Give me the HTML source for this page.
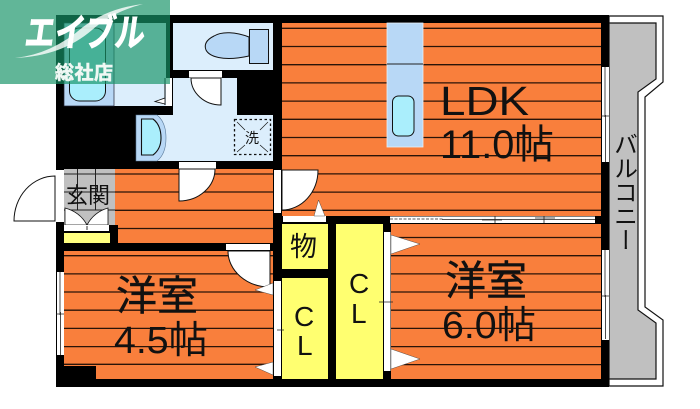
<!DOCTYPE html>
<html><head><meta charset="utf-8"><style>
html,body{margin:0;padding:0;background:#fff}
svg{display:block}
text{font-family:"Liberation Sans","Noto Sans CJK JP",sans-serif;fill:#111}
</style></head><body>
<svg width="700" height="409" viewBox="0 0 700 409" xmlns="http://www.w3.org/2000/svg">
<rect width="700" height="409" fill="#fff"/>
<!-- balcony -->
<polygon points="609,16 663,16 663,82 645,97 645,307 663,320 663,386 609,386" fill="#fff" stroke="#111" stroke-width="1.2"/>
<polygon points="609,23 656,23 656,79 638,92 638,310 656,323 656,379 609,379" fill="#c0c0c0" stroke="#111" stroke-width="1.2"/>
<!-- wall mass -->
<rect x="56" y="15" width="553" height="372" fill="#000"/>
<rect x="56" y="170" width="8" height="52" fill="#fff"/>
<!-- orange rooms -->
<g fill="#f97f3c">
<rect x="282" y="23" width="319" height="193"/>
<polygon points="115,169 273,169 273,243 118,243 118,225 115,225"/>
<polygon points="64,251 273,251 273,379 96,379 96,366 64,366"/>
<rect x="391" y="224" width="210" height="155"/>
</g>
<!-- floor lines -->
<g stroke="#2a1408" stroke-width="1.3">
<path d="M282 28.3H601M282 46.5H601M282 64.7H601M282 82.9H601M282 101.1H601M282 119.3H601M282 137.5H601M282 155.7H601M282 173.9H601M282 192.1H601M282 210.3H601"/>
<path d="M115 174H273M115 192H273M115 210.3H273M118 228.5H273"/>
<path d="M64 255.7H273M64 273.9H273M64 292H273M64 310.2H273M64 328.4H273M64 346.6H273M64 364.3H273"/>
<path d="M391 237.5H601M391 255.7H601M391 273.9H601M391 292H601M391 310.2H601M391 328.4H601M391 346.6H601M391 364.6H601"/>
</g>
<!-- wet rooms -->
<g fill="#dceefc">
<rect x="173" y="23" width="100" height="47"/>
<rect x="64" y="23" width="102" height="83"/>
<polygon points="173,78 237,78 237,115 273,115 273,161 136,161 136,115 173,115"/>
</g>
<rect x="64" y="23" width="50" height="83" fill="#b8d8f6" stroke="#223" stroke-width=".7"/>
<rect x="69.5" y="28" width="36" height="73" rx="10" fill="#aaeefc" stroke="#111" stroke-width="1"/>
<rect x="166" y="78" width="6" height="28" fill="#fff"/>
<path d="M165 78V105" stroke="#111" stroke-width="1"/>
<polygon points="165,98 165,104 155,101.5" fill="#fff" stroke="#111" stroke-width=".8"/>
<!-- toilet -->
<rect x="249.500" y="29.500" width="19" height="34" fill="#b8d8f6" stroke="#111" stroke-width="1"/>
<path d="M249 37C236 32 222 31 214 36C206 40 204 45 206 50C209 56 222 62 249 56Z" fill="#b8d8f6" stroke="#111" stroke-width="1"/>
<rect x="189" y="71" width="33" height="6.500" fill="#fff"/>
<!-- wash basin -->
<path d="M136 115H157Q166 122 166 138Q166 154 157 161H136Z" fill="#b8d8f6" stroke="#5a7a9a" stroke-width=".6"/>
<path d="M141.500 119H153Q161 125 161 138Q161 149 153 155H141.500Z" fill="#aaeefc" stroke="#111" stroke-width="1.100"/>
<!-- washer -->
<rect x="234.500" y="119.500" width="36" height="35" fill="none" stroke="#111" stroke-width="1.300" stroke-dasharray="2.500 2.500"/>
<path d="M237 122L245 130M268 122L260 130M237 152L245 145M268 152L260 145" stroke="#111" stroke-width=".7"/>
<text x="245" y="143" font-size="14">洗</text>
<!-- island kitchen -->
<rect x="387" y="23" width="36" height="124" fill="#b8d8f6" stroke="#e8f0f8" stroke-width=".8"/>
<path d="M387 64H423" stroke="#222" stroke-width="1"/>
<rect x="392.500" y="96" width="21.500" height="40" rx="6" fill="#aaeefc" stroke="#111" stroke-width="1"/>
<!-- genkan -->
<rect x="64" y="169" width="51" height="56" fill="#c0c0c0"/>
<path d="M77.500 169V210M95.500 169V210M64 174H115M64 192H115M64 210H115" stroke="#222" stroke-width="1"/>
<path d="M65 208Q80 212 87 225H65ZM108 208Q94 212 87 225H108Z" fill="#fff" stroke="#111" stroke-width=".8"/>
<rect x="64" y="225" width="45" height="6" fill="#fff"/>
<rect x="64" y="233" width="46" height="10" fill="#ffff80"/>
<path d="M87 226V230" stroke="#333"/>
<!-- yellow closets -->
<g fill="#ffff70">
<rect x="282" y="224" width="46" height="45"/>
<rect x="282" y="278" width="46" height="101"/>
<rect x="336" y="224" width="47" height="155"/>
</g>
<!-- openings -->
<g fill="#fff">
<rect x="179" y="162" width="37" height="6.500"/>
<rect x="274" y="170" width="7" height="43"/>
<rect x="283" y="216" width="43" height="6"/>
<rect x="226" y="244" width="44" height="6"/>
<rect x="274" y="281" width="7" height="95"/>
<rect x="384" y="232" width="6.500" height="139"/>
<rect x="390" y="216.500" width="205" height="6.500"/>
<rect x="602" y="67" width="7" height="95"/>
<rect x="602" y="250" width="7" height="90"/>
<rect x="57" y="272" width="7" height="83"/>
</g>
<g stroke="#222" stroke-width=".8" fill="none">
<path d="M605 67V117M605.500 115V162M601 116H609"/>
<path d="M605 250V297M605.500 295V339M601 296H609"/>
<path d="M60 272V315M60.500 312V355M56 314H64"/>
<path d="M277 330H284M379 302H393"/>
<path d="M390 219H443" stroke-dasharray="3 1.500"/>
<path d="M442 219.500H595M482 220H502M495 216V223M535 218H555M544 216V223"/>
</g>
<!-- doors -->
<g fill="#fff" stroke="#111" stroke-width="1">
<path d="M221 78V105A30 27 0 0 1 191 78Z"/>
<path d="M179 169V201A36 32 0 0 0 215 169Z"/>
<path d="M282 170V210A36 40 0 0 0 318 170Z"/>
<path d="M270 251V287A42 36 0 0 1 228 251Z"/>
<path d="M55 221H14A41 45 0 0 1 55 176Z"/>
</g>
<g fill="#fff" stroke="#333" stroke-width=".4">
<polygon points="314,216 325,216 318.500,200"/>
<polygon points="391,235 391,254 420,244"/>
<polygon points="391,349 391,369 420,359"/>
<polygon points="273,283 273,295 255,290"/>
<polygon points="273,362 273,375 255,367"/>
</g>
<!-- labels -->
<text x="440" y="115" font-size="41" textLength="89" lengthAdjust="spacingAndGlyphs">LDK</text>
<text x="440" y="158" font-size="40" textLength="114" lengthAdjust="spacingAndGlyphs">11.0帖</text>
<text x="445" y="295" font-size="41" stroke="#111" stroke-width=".4">洋室</text>
<text x="442" y="338" font-size="38" textLength="94" lengthAdjust="spacingAndGlyphs">6.0帖</text>
<text x="116" y="310" font-size="41" stroke="#111" stroke-width=".4">洋室</text>
<text x="114" y="353" font-size="38" textLength="94" lengthAdjust="spacingAndGlyphs">4.5帖</text>
<text x="290" y="256" font-size="27">物</text>
<text x="349" y="293" font-size="28">C</text>
<text x="351" y="323" font-size="28">L</text>
<text x="294" y="326" font-size="28">C</text>
<text x="297" y="355" font-size="28">L</text>
<text x="66" y="203" font-size="22">玄関</text>
<text x="623" y="132" font-size="24" style="writing-mode:vertical-rl">バルコニー</text>
<!-- logo overlay -->
<rect x="0" y="0" width="170" height="84" fill="rgb(22,147,103)" fill-opacity=".68"/>
<path d="M15 58Q52 54 83 27Q108 8 143 4Q112 12 92 30Q62 56 15 58Z" fill="#fff" fill-opacity=".8"/>
<text x="24" y="46" font-size="38" font-weight="bold" transform="skewX(-8) translate(6,0)" stroke="#fff" stroke-width=".8" style="fill:#fff" textLength="120" lengthAdjust="spacingAndGlyphs">エイブル</text>
<text x="55" y="79" font-size="19" font-weight="bold" stroke="#f0f8f4" stroke-width=".6" style="fill:#f0f8f4" textLength="58">総社店</text>
</svg>
</body></html>
